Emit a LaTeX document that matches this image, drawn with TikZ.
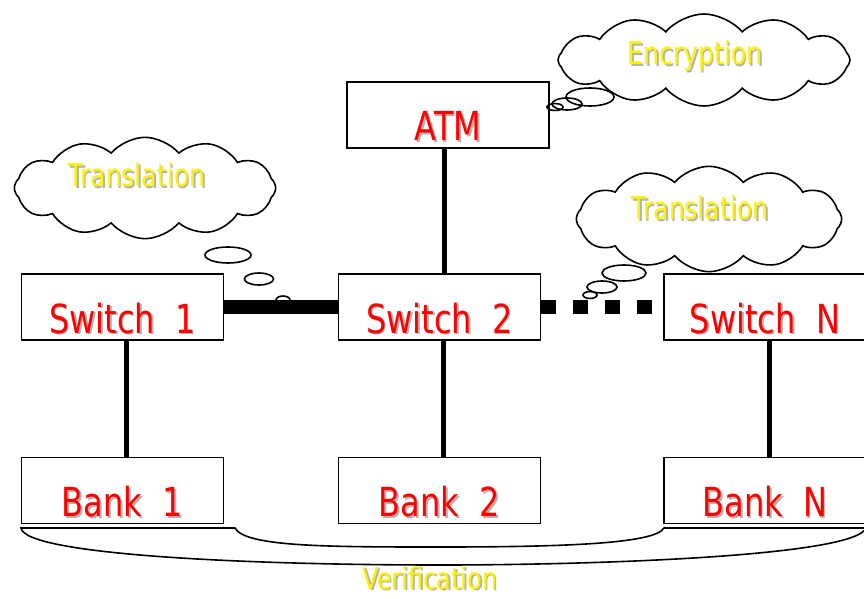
\documentclass[tikz,border=0pt]{standalone}
\usepackage{fontspec}
\setmainfont[FakeStretch=0.8]{DejaVu Sans}
\usetikzlibrary{shapes.symbols}
\colorlet{boxtext}{red}
\colorlet{notetext}{yellow}
% soft grey copy behind the lettering
\newcommand\dropshade[1]{\makebox[0pt][l]{\kern1.2pt\raisebox{-1.2pt}{\textcolor{black!30}{#1}}}#1}

\begin{document}
\begin{tikzpicture}[
      x=0.75pt, y=-0.75pt,
      box/.style={draw, fill=white, line width=1.4pt, minimum width=151.5pt,
                  minimum height=49.5pt, inner sep=2pt, text height=39pt,
                  text depth=0pt, font=\fontsize{30}{30}\selectfont, text=boxtext},
      note/.style={font=\fontsize{23.5}{24}\selectfont, text=notetext, inner sep=0pt},
      thought/.style={cloud, draw, fill=white, line width=1.2pt, cloud puffs=12,
                      cloud puff arc=100},
      bubble/.style={draw, line width=1.2pt},
      link/.style={line width=3.75pt},
      trunk/.style={line width=10.5pt}
    ]
    \useasboundingbox (0,0) rectangle (864,599);

    % switches, banks and the ATM
    \node[box] (atm) at (448,115) {\dropshade{ATM}};
    \node[box] (sw1) at (122.5,307) {\dropshade{Switch\ \ 1}};
    \node[box] (sw2) at (439.5,307) {\dropshade{Switch\ \ 2}};
    \node[box] (swN) at (765,307) {\dropshade{Switch\ \ N}};
    \node[box] (bank1) at (122.5,490.5) {\dropshade{Bank\ \ 1}};
    \node[box] (bank2) at (439.5,490.5) {\dropshade{Bank\ \ 2}};
    \node[box] (bankN) at (765,490.5) {\dropshade{Bank\ \ N}};

    % thought clouds
    \node[thought, aspect=2.56, minimum width=196pt, minimum height=76pt] (cloudL) at (145,188) {};
    \node[thought, aspect=2.5, minimum width=199pt, minimum height=79pt] (cloudM) at (709,219) {};
    \node[thought, aspect=3.1, minimum width=219pt, minimum height=69pt] (cloudT) at (704,60) {};
    \node[note] (transL) at (137,176) {\dropshade{Translation}};
    \node[note] (transM) at (700,209) {\dropshade{Translation}};
    \node[note] (encrypt) at (695,57) {\dropshade{Encryption}};

    \draw[bubble] (228,255) ellipse [x radius=17.25pt, y radius=6pt];
    \draw[bubble] (259,279) ellipse [x radius=10.9pt, y radius=4.5pt];
    \draw[bubble] (283,300) ellipse [x radius=5.25pt, y radius=3pt];
    \draw[bubble] (624,273) ellipse [x radius=16.5pt, y radius=6pt];
    \draw[bubble] (602,287) ellipse [x radius=11.25pt, y radius=4.5pt];
    \draw[bubble] (590,295) ellipse [x radius=5.25pt, y radius=2.6pt];
    \draw[bubble] (590,97) ellipse [x radius=18pt, y radius=6.75pt];
    \draw[bubble] (567,104) ellipse [x radius=11.25pt, y radius=4.5pt];
    \draw[bubble] (555,107) ellipse [x radius=6pt, y radius=2.6pt];

    % links
    \draw[link] ([xshift=-3pt]atm.south) -- ([xshift=-3pt]atm.south |- sw2.north);
    \draw[link] ([xshift=3pt]sw1.south) -- ([xshift=3pt]bank1.north);
    \draw[link] ([xshift=3pt]sw2.south) -- ([xshift=3pt]bank2.north);
    \draw[link] ([xshift=3pt]swN.south) -- ([xshift=3pt]bankN.north);
    \draw[trunk] (sw1) -- (sw2);
    \draw[trunk, dash pattern=on 11.25pt off 12.75pt] (sw2) -- (swN);

    % brace under the banks
    \draw[line width=1.2pt] (21,528) -- (235,528)
      .. controls (245,547) and (330,547) .. (440,547)
      .. controls (560,547) and (655,544) .. (664,528) -- (866,528)
      .. controls (855,556) and (600,565) .. (440,565)
      .. controls (250,565) and (25,555) .. (21,528) -- cycle;
    \node[note, font=\fontsize{22.5}{23}\selectfont] (verif) at (430,579) {\dropshade{Verification}};
  \end{tikzpicture}
\end{document}
